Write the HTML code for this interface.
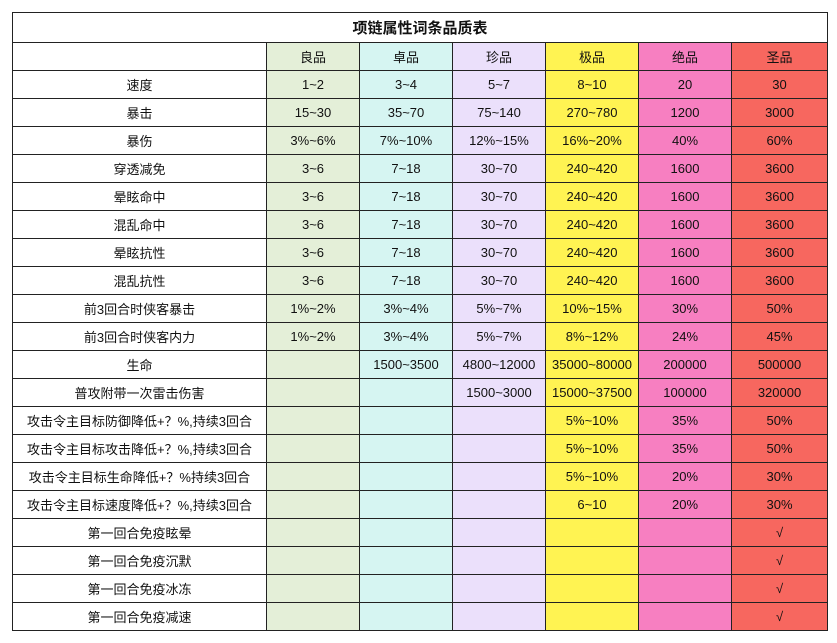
<!DOCTYPE html>
<html><head><meta charset="utf-8"><style>
body{margin:0;background:#fff;width:837px;height:643px;overflow:hidden;font-family:"Liberation Sans","Noto Sans CJK SC",sans-serif;}
table{position:absolute;left:12px;top:12px;border-collapse:collapse;table-layout:fixed;width:815px;font-size:13px;color:#111}
td{border:1px solid #222;height:27px;padding:0;text-align:center;white-space:nowrap;overflow:hidden}
td.t{height:29px;font-weight:bold;font-size:15px}
.a{background:#e4efd8}.b{background:#d6f5f2}.c{background:#ebe0fb}.d{background:#fff352}.e{background:#f77fc1}.f{background:#f7675f}
</style></head><body>
<table>
<colgroup><col style="width:254px"><col style="width:93px"><col style="width:93px"><col style="width:93px"><col style="width:93px"><col style="width:93px"><col style="width:96px"></colgroup>
<tr><td class="t" colspan="7">项链属性词条品质表</td></tr>
<tr><td></td><td class="a">良品</td><td class="b">卓品</td><td class="c">珍品</td><td class="d">极品</td><td class="e">绝品</td><td class="f">圣品</td></tr>
<tr><td>速度</td><td class="a">1~2</td><td class="b">3~4</td><td class="c">5~7</td><td class="d">8~10</td><td class="e">20</td><td class="f">30</td></tr>
<tr><td>暴击</td><td class="a">15~30</td><td class="b">35~70</td><td class="c">75~140</td><td class="d">270~780</td><td class="e">1200</td><td class="f">3000</td></tr>
<tr><td>暴伤</td><td class="a">3%~6%</td><td class="b">7%~10%</td><td class="c">12%~15%</td><td class="d">16%~20%</td><td class="e">40%</td><td class="f">60%</td></tr>
<tr><td>穿透减免</td><td class="a">3~6</td><td class="b">7~18</td><td class="c">30~70</td><td class="d">240~420</td><td class="e">1600</td><td class="f">3600</td></tr>
<tr><td>晕眩命中</td><td class="a">3~6</td><td class="b">7~18</td><td class="c">30~70</td><td class="d">240~420</td><td class="e">1600</td><td class="f">3600</td></tr>
<tr><td>混乱命中</td><td class="a">3~6</td><td class="b">7~18</td><td class="c">30~70</td><td class="d">240~420</td><td class="e">1600</td><td class="f">3600</td></tr>
<tr><td>晕眩抗性</td><td class="a">3~6</td><td class="b">7~18</td><td class="c">30~70</td><td class="d">240~420</td><td class="e">1600</td><td class="f">3600</td></tr>
<tr><td>混乱抗性</td><td class="a">3~6</td><td class="b">7~18</td><td class="c">30~70</td><td class="d">240~420</td><td class="e">1600</td><td class="f">3600</td></tr>
<tr><td>前3回合时侠客暴击</td><td class="a">1%~2%</td><td class="b">3%~4%</td><td class="c">5%~7%</td><td class="d">10%~15%</td><td class="e">30%</td><td class="f">50%</td></tr>
<tr><td>前3回合时侠客内力</td><td class="a">1%~2%</td><td class="b">3%~4%</td><td class="c">5%~7%</td><td class="d">8%~12%</td><td class="e">24%</td><td class="f">45%</td></tr>
<tr><td>生命</td><td class="a"></td><td class="b">1500~3500</td><td class="c">4800~12000</td><td class="d">35000~80000</td><td class="e">200000</td><td class="f">500000</td></tr>
<tr><td>普攻附带一次雷击伤害</td><td class="a"></td><td class="b"></td><td class="c">1500~3000</td><td class="d">15000~37500</td><td class="e">100000</td><td class="f">320000</td></tr>
<tr><td>攻击令主目标防御降低+？%,持续3回合</td><td class="a"></td><td class="b"></td><td class="c"></td><td class="d">5%~10%</td><td class="e">35%</td><td class="f">50%</td></tr>
<tr><td>攻击令主目标攻击降低+？%,持续3回合</td><td class="a"></td><td class="b"></td><td class="c"></td><td class="d">5%~10%</td><td class="e">35%</td><td class="f">50%</td></tr>
<tr><td>攻击令主目标生命降低+？%持续3回合</td><td class="a"></td><td class="b"></td><td class="c"></td><td class="d">5%~10%</td><td class="e">20%</td><td class="f">30%</td></tr>
<tr><td>攻击令主目标速度降低+？%,持续3回合</td><td class="a"></td><td class="b"></td><td class="c"></td><td class="d">6~10</td><td class="e">20%</td><td class="f">30%</td></tr>
<tr><td>第一回合免疫眩晕</td><td class="a"></td><td class="b"></td><td class="c"></td><td class="d"></td><td class="e"></td><td class="f">√</td></tr>
<tr><td>第一回合免疫沉默</td><td class="a"></td><td class="b"></td><td class="c"></td><td class="d"></td><td class="e"></td><td class="f">√</td></tr>
<tr><td>第一回合免疫冰冻</td><td class="a"></td><td class="b"></td><td class="c"></td><td class="d"></td><td class="e"></td><td class="f">√</td></tr>
<tr><td>第一回合免疫减速</td><td class="a"></td><td class="b"></td><td class="c"></td><td class="d"></td><td class="e"></td><td class="f">√</td></tr>
</table>
</body></html>
